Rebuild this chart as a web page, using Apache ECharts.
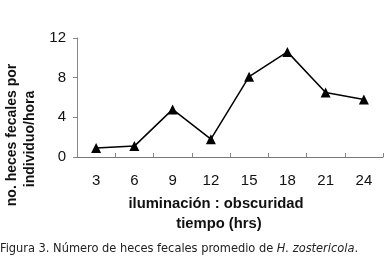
<!DOCTYPE html>
<html>
<head>
<meta charset="utf-8">
<script src="https://cdn.jsdelivr.net/npm/echarts@6/dist/echarts.min.js"></script>
<style>
html,body{margin:0;padding:0;background:#fff;}
#c{width:386px;height:262px;}
</style>
</head>
<body>
<div id="c"></div>
<script>
var categories = ['3','6','9','12','15','18','21','24'];
var values = [0.9, 1.1, 4.8, 1.8, 8.1, 10.6, 6.5, 5.8];
var yTicks = [0, 4, 8, 12];
var yTitleLines = ['no. heces fecales por', 'individuo/hora'];
var xTitleLines = ['iluminación : obscuridad', 'tiempo (hrs)'];
var caption = ['Figura 3. Número de heces fecales promedio de ', 'H. zostericola', '.'];

var chart = echarts.init(document.getElementById('c'), null, {renderer:'canvas'});
var option = {
  animation: false,
  backgroundColor: '#fff',
  grid: {left: 77, right: 3, top: 38, bottom: 105, containLabel: false},
  xAxis: {
    type: 'category',
    data: categories,
    boundaryGap: true,
    axisLine: {show: true, lineStyle: {color: '#777', width: 1}},
    axisTick: {show: true, inside: true, length: 4, lineStyle: {color: '#888'}},
    axisLabel: {color: '#111', fontSize: 15, fontFamily: 'Liberation Sans', margin: 16}
  },
  yAxis: {
    type: 'value',
    min: 0, max: 12, interval: 4,
    splitLine: {show: false},
    axisLine: {show: true, lineStyle: {color: '#888', width: 1}},
    axisTick: {show: true, length: 4, lineStyle: {color: '#888'}},
    axisLabel: {color: '#111', fontSize: 15, fontFamily: 'Liberation Sans', margin: 11,
      formatter: function(v){ return yTicks.indexOf(v) >= 0 ? String(v) : ''; }}
  },
  series: [{
    type: 'line',
    data: values,
    symbol: 'triangle',
    symbolSize: 10,
    lineStyle: {color: '#000', width: 1.5},
    itemStyle: {color: '#000'}
  }],
  graphic: [
    {type: 'text', x: 12, y: 135, rotation: Math.PI/2,
      style: {text: yTitleLines[0], font: 'bold 14px "Liberation Sans"', fill: '#111', align: 'center', verticalAlign: 'middle'}},
    {type: 'text', x: 30, y: 139, rotation: Math.PI/2,
      style: {text: yTitleLines[1], font: 'bold 14px "Liberation Sans"', fill: '#111', align: 'center', verticalAlign: 'middle'}},
    {type: 'text', x: 216, y: 204,
      style: {text: xTitleLines[0], font: 'bold 14.8px "Liberation Sans"', fill: '#111', align: 'center', verticalAlign: 'middle'}},
    {type: 'text', x: 219, y: 224,
      style: {text: xTitleLines[1], font: 'bold 14.8px "Liberation Sans"', fill: '#111', align: 'center', verticalAlign: 'middle'}},
    {type: 'text', x: 0, y: 249,
      style: {text: '{n|' + caption[0] + '}{i|' + caption[1] + '}{n|' + caption[2] + '}',
        align: 'left', verticalAlign: 'middle',
        rich: {
          n: {font: '12.7px "Liberation Sans Narrow", "DejaVu Sans Condensed"', fill: '#222'},
          i: {font: 'italic 12.7px "Liberation Sans Narrow", "DejaVu Sans Condensed"', fill: '#222'}
        }}}
  ]
};
chart.setOption(option);
</script>
</body>
</html>
